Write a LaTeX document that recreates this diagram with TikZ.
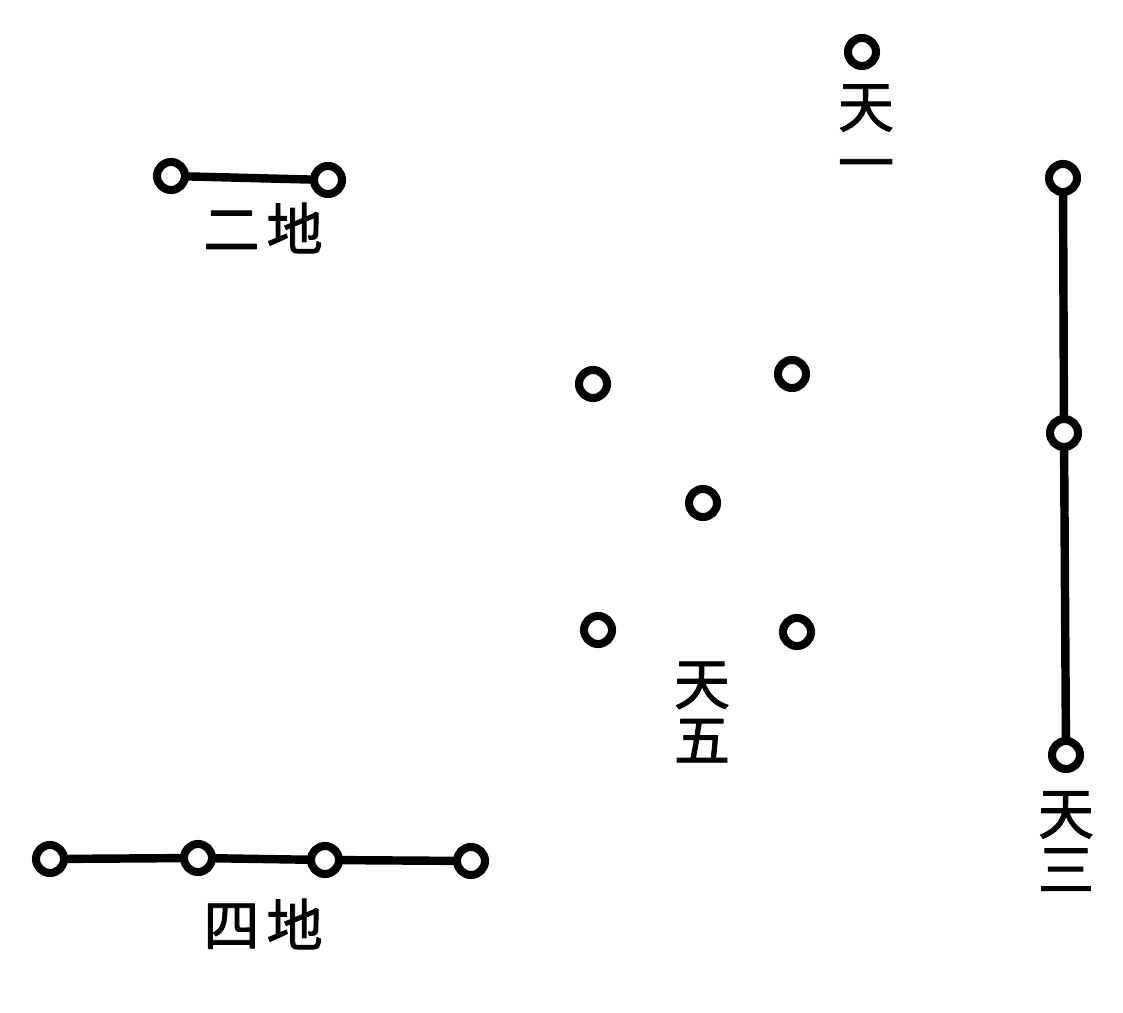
\documentclass[tikz,border=0pt]{standalone}
\usepackage{fontspec}
\newfontfamily\cjk{Noto Sans CJK SC}[FakeBold=1.5]
\begin{document}
\begin{tikzpicture}[x=0.02cm,y=-0.02cm,line join=round,line cap=round]
	\tikzset{ring/.style={circle,draw,fill=white,line width=4.6pt,inner sep=0pt,minimum size=0.56cm},
		link/.style={line width=4.8pt},
		label/.style={font=\cjk\fontsize{32}{32}\selectfont,align=center,inner sep=0pt}}
	\useasboundingbox (0,0) rectangle (1123,1013);
	% tian yi
	\node[ring] (t1) at (862,52) {};
	\node[label] (t1l) at (866,134) {天\\一};
	% di er
	\node[ring] (d2a) at (171,176) {};
	\node[ring] (d2b) at (328,180) {};
	\draw[link] (d2a)--(d2b);
	\node[label] (d2l) at (263,228) {二\hspace{4pt}地};
	% tian san
	\node[ring] (t3a) at (1063,178) {};
	\node[ring] (t3b) at (1064,433) {};
	\node[ring] (t3c) at (1066,755) {};
	\draw[link] (t3a)--(t3b) (t3b)--(t3c);
	\node[label] (t3l) at (1066,841) {天\\三};
	% tian wu
	\node[ring] (t5a) at (593,384) {};
	\node[ring] (t5b) at (792,374) {};
	\node[ring] (t5c) at (703,503) {};
	\node[ring] (t5d) at (598,630) {};
	\node[ring] (t5e) at (797,632) {};
	\node[label] (t5l) at (702,712) {天\\五};
	% di si
	\node[ring] (d4a) at (50,859) {};
	\node[ring] (d4b) at (198,858) {};
	\node[ring] (d4c) at (325,860) {};
	\node[ring] (d4d) at (471,861) {};
	\draw[link] (d4a)--(d4b) (d4b)--(d4c) (d4c)--(d4d);
	\node[label] (d4l) at (263,924) {四\hspace{4pt}地};
\end{tikzpicture}
\end{document}
